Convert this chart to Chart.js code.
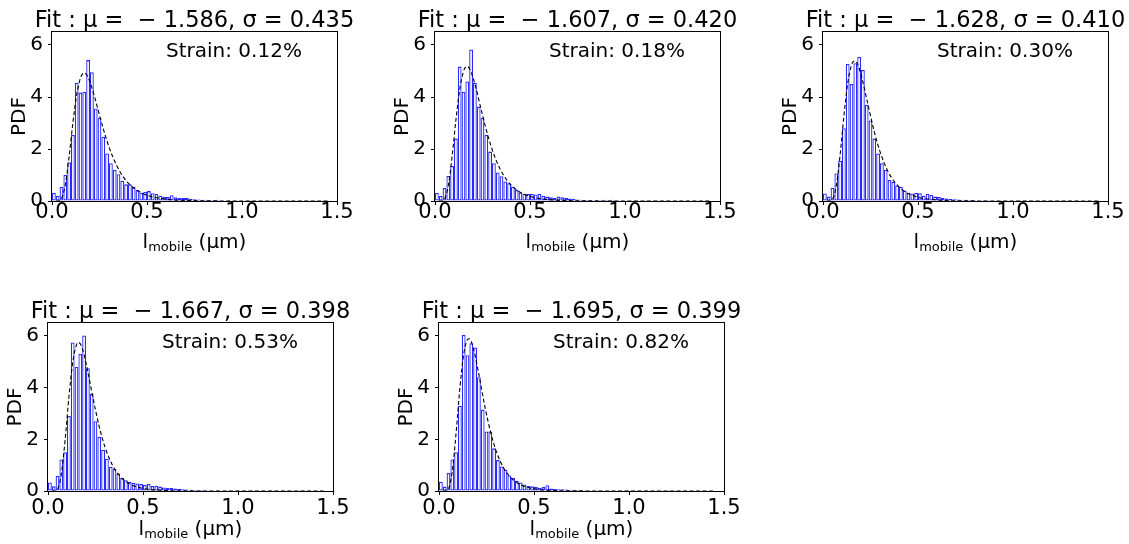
<!DOCTYPE html>
<html>
<head>
<meta charset="utf-8">
<script src="https://cdn.jsdelivr.net/npm/chart.js@4.4.0/dist/chart.umd.min.js"></script>
<style>
  html, body { margin: 0; padding: 0; background: #fff; overflow: hidden; }
  body { width: 1129px; height: 544px; position: relative; }
  canvas { position: absolute; }
</style>
</head>
<body>
<script>
// ---- data ----
const binWidth = 0.02;   // histogram bins start at 0

const pdf1 = [0.32, 0.20, 0.55, 1.00, 1.49, 2.54, 4.55, 4.17, 4.20, 5.42,
              4.95, 3.56, 3.20, 2.47, 1.83, 1.45, 1.19, 1.03, 0.78, 0.64,
              0.64, 0.55, 0.42, 0.32, 0.36, 0.38, 0.30, 0.27, 0.20, 0.15,
              0.15, 0.22, 0.14, 0.12, 0.12, 0.12, 0.08, 0.07, 0.06, 0.05,
              0.05, 0.04, 0.04, 0.05, 0.03, 0.03, 0.04, 0.02, 0.03, 0.02,
              0.02, 0.02, 0.01, 0.02, 0.01, 0.01, 0.02, 0.01, 0.01, 0.01,
              0.01, 0.00, 0.01, 0.01, 0.00, 0.01, 0.00, 0.01, 0.00, 0.01, 0.00, 0.01, 0.01];
const pdf2 = [0.32, 0.19, 0.50, 0.96, 1.35, 2.40, 5.17, 4.20, 4.60, 5.83,
              4.55, 3.63, 3.20, 2.54, 1.90, 1.45, 1.10, 0.95, 0.75, 0.68,
              0.55, 0.42, 0.33, 0.28, 0.27, 0.27, 0.25, 0.27, 0.20, 0.17,
              0.14, 0.12, 0.17, 0.14, 0.12, 0.10, 0.08, 0.06, 0.05, 0.04,
              0.04, 0.03, 0.03, 0.04, 0.05, 0.04, 0.05, 0.03, 0.02, 0.02,
              0.02, 0.02, 0.01, 0.01, 0.02, 0.01, 0.01, 0.01, 0.01, 0.00,
              0.01, 0.01, 0.00, 0.01, 0.01, 0.00, 0.01, 0.00, 0.01, 0.00, 0.00, 0.00, 0.00];
const pdf3 = [0.29, 0.17, 0.51, 1.06, 1.55, 2.80, 5.27, 4.50, 5.30, 5.55,
              5.04, 3.70, 3.10, 2.40, 1.83, 1.45, 1.20, 0.81, 0.74, 0.60,
              0.55, 0.40, 0.32, 0.29, 0.32, 0.30, 0.20, 0.27, 0.23, 0.17,
              0.15, 0.12, 0.10, 0.08, 0.07, 0.06, 0.05, 0.05, 0.04, 0.04,
              0.03, 0.03, 0.04, 0.03, 0.02, 0.03, 0.02, 0.02, 0.03, 0.02,
              0.02, 0.01, 0.02, 0.01, 0.01, 0.02, 0.01, 0.01, 0.01, 0.01,
              0.00, 0.01, 0.01, 0.00, 0.01, 0.00, 0.01, 0.00, 0.00, 0.00, 0.00, 0.00, 0.00];
const pdf4 = [0.33, 0.18, 0.58, 1.22, 1.50, 2.90, 5.75, 4.80, 5.30, 6.02,
              4.75, 3.75, 2.70, 2.10, 1.60, 1.25, 0.94, 0.85, 0.68, 0.50,
              0.42, 0.36, 0.32, 0.29, 0.27, 0.23, 0.27, 0.19, 0.20, 0.17,
              0.14, 0.12, 0.12, 0.10, 0.08, 0.07, 0.06, 0.05, 0.05, 0.04,
              0.04, 0.03, 0.03, 0.02, 0.03, 0.02, 0.02, 0.03, 0.02, 0.01,
              0.02, 0.01, 0.01, 0.01, 0.02, 0.01, 0.01, 0.00, 0.01, 0.01,
              0.00, 0.01, 0.00, 0.01, 0.00, 0.00, 0.01, 0.00, 0.00, 0.00, 0.00, 0.00, 0.00];
const pdf5 = [0.36, 0.17, 0.70, 1.22, 1.50, 3.30, 6.04, 5.25, 5.72, 5.55,
              4.40, 3.15, 2.30, 2.30, 1.65, 1.20, 0.95, 0.82, 0.60, 0.50,
              0.40, 0.33, 0.25, 0.20, 0.18, 0.15, 0.13, 0.15, 0.22, 0.10,
              0.08, 0.07, 0.07, 0.06, 0.05, 0.04, 0.04, 0.03, 0.03, 0.03,
              0.02, 0.03, 0.02, 0.02, 0.02, 0.01, 0.02, 0.01, 0.01, 0.01,
              0.01, 0.01, 0.01, 0.00, 0.01, 0.01, 0.00, 0.01, 0.00, 0.00,
              0.01, 0.00, 0.00, 0.01, 0.00, 0.00, 0.00, 0.00, 0.00, 0.00, 0.00, 0.00, 0.00];

// dashed lognormal fit
const fitX = [0.02, 0.03, 0.05, 0.07, 0.09, 0.11, 0.13, 0.15, 0.16, 0.17, 0.18, 0.19,
              0.21, 0.24, 0.27, 0.30, 0.34, 0.38, 0.43, 0.50, 0.60, 0.75, 1.00, 1.25, 1.45];
const fit1 = [0.00, 0.002, 0.096, 0.624, 1.710, 3.006, 4.090, 4.735, 4.881, 4.923, 4.876, 4.756,
              4.360, 3.575, 2.775, 2.079, 1.367, 0.879, 0.498, 0.223, 0.072, 0.014, 0.001, 0, 0];
const fit2 = [0.00, 0.001, 0.080, 0.588, 1.713, 3.109, 4.293, 4.989, 5.140, 5.172, 5.106, 4.959,
              4.496, 3.611, 2.737, 1.998, 1.267, 0.785, 0.424, 0.178, 0.053, 0.009, 0.001, 0, 0];
const fit3 = [0.00, 0.001, 0.075, 0.588, 1.771, 3.260, 4.516, 5.230, 5.370, 5.381, 5.286, 5.105,
              4.571, 3.596, 2.664, 1.900, 1.167, 0.700, 0.364, 0.145, 0.040, 0.006, 0.000, 0, 0];
const fit4 = [0.00, 0.001, 0.076, 0.640, 1.969, 3.626, 4.968, 5.654, 5.745, 5.695, 5.529, 5.276,
              4.606, 3.483, 2.479, 1.698, 0.989, 0.563, 0.275, 0.100, 0.025, 0.003, 0.000, 0, 0];
const fit5 = [0.00, 0.001, 0.099, 0.770, 2.252, 3.987, 5.290, 5.863, 5.888, 5.773, 5.548, 5.243,
              4.499, 3.325, 2.321, 1.563, 0.893, 0.499, 0.239, 0.086, 0.021, 0.003, 0.000, 0, 0];

const mus     = [-1.586, -1.607, -1.628, -1.667, -1.695];
const sigmas  = [0.435, 0.420, 0.410, 0.398, 0.399];
const strains = ['0.12%', '0.18%', '0.30%', '0.53%', '0.82%'];
const xTicks  = [0, 0.5, 1.0, 1.5];
const yTicks  = [0, 2, 4, 6];

const histograms = [pdf1, pdf2, pdf3, pdf4, pdf5];
const fits = [fit1, fit2, fit3, fit4, fit5];

// ---- layout ----
const FONT = "'DejaVu Sans', sans-serif";
const PAD_L = 60, PAD_T = 40, PAD_R = 20, AX_H = 60, PLOT_W = 285;
const layout = [
  { left: 52,  top: 32,  h: 169, tickPad: -5,  xlabDy: 47 },
  { left: 435, top: 32,  h: 169, tickPad: -5,  xlabDy: 47 },
  { left: 823, top: 32,  h: 169, tickPad: -5,  xlabDy: 47 },
  { left: 48,  top: 323, h: 168, tickPad: 0.5, xlabDy: 44 },
  { left: 439, top: 323, h: 168, tickPad: 0.5, xlabDy: 44 }
];

Chart.defaults.font.family = FONT;
Chart.defaults.color = '#000';

// frame + texts that chart.js can't lay out like matplotlib
const decor = {
  id: 'decor',
  afterDraw(chart, args, o) {
    const { ctx, chartArea: a } = chart;
    ctx.save();
    ctx.strokeStyle = '#000';
    ctx.lineWidth = 1;
    ctx.strokeRect(a.left - 0.5, a.top - 0.5, a.width + 1, a.height + 1);

    ctx.fillStyle = '#000';
    const cx = (a.left + a.right) / 2;

    // title
    ctx.font = `22.5px ${FONT}`;
    ctx.textAlign = 'center';
    ctx.textBaseline = 'alphabetic';
    ctx.fillText(o.title, cx, a.top - 5);

    // strain note
    ctx.font = `20px ${FONT}`;
    ctx.textAlign = 'left';
    ctx.fillText('Strain: ' + o.strain, a.left + 0.4 * a.width, a.top + 24.5);

    // x label with subscript
    const by = a.bottom + o.xlabDy;
    ctx.font = `20px ${FONT}`;
    const w1 = ctx.measureText('l').width, w3 = ctx.measureText(' (μm)').width;
    ctx.font = `13px ${FONT}`;
    const w2 = ctx.measureText('mobile').width;
    let x = cx - (w1 + w2 + w3) / 2;
    ctx.font = `20px ${FONT}`;
    ctx.fillText('l', x, by); x += w1;
    ctx.font = `13px ${FONT}`;
    ctx.fillText('mobile', x, by + 3); x += w2;
    ctx.font = `20px ${FONT}`;
    ctx.fillText(' (μm)', x, by);

    // y label
    ctx.translate(a.left - 32.5, (a.top + a.bottom) / 2);
    ctx.rotate(-Math.PI / 2);
    ctx.textAlign = 'center';
    ctx.textBaseline = 'middle';
    ctx.fillText('PDF', 0, 0);
    ctx.restore();
  }
};

function makePanel(i) {
  const p = layout[i];
  const W = PAD_L + PLOT_W + PAD_R, H = PAD_T + p.h + AX_H;
  const c = document.createElement('canvas');
  c.width = W; c.height = H;
  c.style.left = (p.left - PAD_L) + 'px';
  c.style.top = (p.top - PAD_T) + 'px';
  c.style.width = W + 'px';
  c.style.height = H + 'px';
  document.body.appendChild(c);

  const bars = histograms[i].map((v, k) => ({ x: binWidth * (k + 0.5), y: v }));
  const fit = fitX.map((xv, k) => ({ x: xv, y: fits[i][k] }));
  const title = `Fit : μ =  − ${Math.abs(mus[i]).toFixed(3)}, σ = ${sigmas[i].toFixed(3)}`;

  new Chart(c, {
    type: 'bar',
    data: {
      datasets: [
        { type: 'line', data: fit, borderColor: '#000', borderWidth: 1.1, borderDash: [4, 2.5],
          pointRadius: 0, cubicInterpolationMode: 'monotone', fill: false, order: 0 },
        { type: 'bar', data: bars, backgroundColor: '#fff', borderColor: '#2a2aff', borderWidth: 1.3,
          inflateAmount: 0, borderSkipped: false, barPercentage: 1, categoryPercentage: 1, order: 1 }
      ]
    },
    options: {
      responsive: false, animation: false, devicePixelRatio: 1,
      layout: { padding: { top: PAD_T, right: PAD_R, left: 0, bottom: 0 } },
      plugins: {
        legend: { display: false }, tooltip: { enabled: false },
        decor: { title, strain: strains[i], xlabDy: p.xlabDy }
      },
      scales: {
        x: {
          type: 'linear', min: 0, max: 1.5, offset: false,
          afterFit: s => { s.height = AX_H; },
          afterBuildTicks: s => { s.ticks = xTicks.map(v => ({ value: v })); },
          grid: { drawOnChartArea: false, drawTicks: true, tickLength: 4, tickColor: '#000', offset: false },
          border: { display: false },
          ticks: { padding: p.tickPad, color: '#000', maxRotation: 0, autoSkip: false,
                   font: { family: FONT, size: 21, lineHeight: 1.2 }, callback: v => v.toFixed(1) }
        },
        y: {
          min: 0, max: 6.5,
          afterFit: s => { s.width = PAD_L; },
          afterBuildTicks: s => { s.ticks = yTicks.map(v => ({ value: v })); },
          grid: { drawOnChartArea: false, drawTicks: true, tickLength: 4, tickColor: '#000' },
          border: { display: false },
          ticks: { padding: 5, color: '#000', font: { family: FONT, size: 20 }, callback: v => String(v) }
        }
      }
    },
    plugins: [decor]
  });
}

for (let i = 0; i < 5; i++) makePanel(i);
</script>
</body>
</html>
